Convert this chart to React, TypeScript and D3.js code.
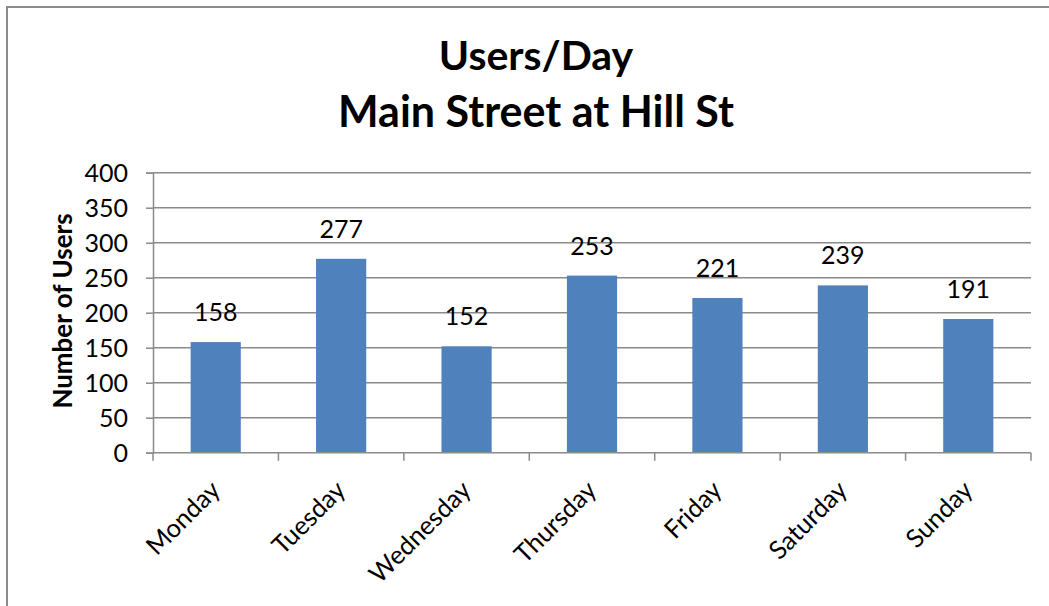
import React, { useEffect, useRef } from "react";
import * as d3 from "d3";

const days = ["Monday", "Tuesday", "Wednesday", "Thursday", "Friday", "Saturday", "Sunday"];
const users = [158, 277, 152, 253, 221, 239, 191];
const yTicks = [0, 50, 100, 150, 200, 250, 300, 350, 400];
const titleLines = ["Users/Day", "Main Street at Hill St"];
const yTitle = "Number of Users";

const FONT = "Lato, 'Open Sans', sans-serif";

function BarChart() {
  const ref = useRef<HTMLDivElement>(null);

  useEffect(() => {
    const width = 1049;
    const height = 606;
    const left = 153;
    const right = 1031;
    const top = 172.7;
    const bottom = 452.7;

    document.body.style.margin = "0";
    d3.select(ref.current).select("svg").remove();

    const svg = d3
      .select(ref.current)
      .append("svg")
      .attr("width", width)
      .attr("height", height)
      .style("display", "block")
      .style("font-family", FONT);

    svg.append("rect").attr("width", width).attr("height", height).attr("fill", "white");

    // outer chart border (runs off the right and bottom edges)
    svg
      .append("rect")
      .attr("x", 7)
      .attr("y", 7)
      .attr("width", width + 20)
      .attr("height", height + 20)
      .attr("fill", "none")
      .attr("stroke", "#8c8c8c")
      .attr("stroke-width", 2);

    const x = d3.scaleBand().domain(days).range([left, right]).paddingInner(0.6).paddingOuter(0.3);
    const xCat = d3.scaleBand().domain(days).range([left, right]);
    const y = d3.scaleLinear().domain([0, 400]).range([bottom, top]);

    // gridlines
    svg
      .append("g")
      .selectAll("line")
      .data(yTicks.filter((t) => t > 0))
      .enter()
      .append("line")
      .attr("x1", left)
      .attr("x2", right)
      .attr("y1", (d) => y(d))
      .attr("y2", (d) => y(d))
      .attr("stroke", "#8a8a8a")
      .attr("stroke-width", 1.5);

    // y axis
    const yAxis = svg
      .append("g")
      .attr("transform", `translate(${left},0)`)
      .call(d3.axisLeft(y).tickValues(yTicks).tickSize(7).tickPadding(8));
    yAxis.select(".domain").attr("stroke", "#8a8a8a").attr("stroke-width", 1.5);
    yAxis.selectAll(".tick line").attr("stroke", "#8a8a8a").attr("stroke-width", 1.5);
    yAxis
      .selectAll(".tick text")
      .attr("font-family", FONT)
      .attr("font-size", 25)
      .attr("fill", "#000")
      .attr("dy", "0.36em")
      .attr("x", -25);

    // bars
    svg
      .append("g")
      .selectAll("rect")
      .data(users)
      .enter()
      .append("rect")
      .attr("x", (d, i) => x(days[i])!)
      .attr("y", (d) => y(d))
      .attr("width", x.bandwidth())
      .attr("height", (d) => bottom - y(d))
      .attr("fill", "#4f81bd");

    // data labels
    svg
      .append("g")
      .selectAll("text")
      .data(users)
      .enter()
      .append("text")
      .attr("x", (d, i) => x(days[i])! + x.bandwidth() / 2)
      .attr("y", (d) => y(d) - 21)
      .attr("text-anchor", "middle")
      .attr("font-size", 25)
      .text((d) => d);

    // x axis
    const boundaries = days.map((d) => xCat(d)!).concat([right]);
    svg
      .append("line")
      .attr("x1", left)
      .attr("x2", right)
      .attr("y1", bottom)
      .attr("y2", bottom)
      .attr("stroke", "#8a8a8a")
      .attr("stroke-width", 1.5);
    svg
      .append("g")
      .selectAll("line")
      .data(boundaries)
      .enter()
      .append("line")
      .attr("x1", (d) => d)
      .attr("x2", (d) => d)
      .attr("y1", bottom)
      .attr("y2", bottom + 8)
      .attr("stroke", "#8a8a8a")
      .attr("stroke-width", 1.5);

    svg
      .append("g")
      .selectAll("text")
      .data(days)
      .enter()
      .append("text")
      .attr("transform", (d) => `translate(${xCat(d)! + xCat.bandwidth() / 2 + 6},${bottom + 39}) rotate(-45)`)
      .attr("text-anchor", "end")
      .attr("font-size", 25.5)
      .text((d) => d);

    // y axis title
    svg
      .append("text")
      .attr("transform", `translate(72,311) rotate(-90)`)
      .attr("text-anchor", "middle")
      .attr("font-size", 26)
      .attr("font-weight", "bold")
      .text(yTitle);

    // title
    svg
      .append("g")
      .selectAll("text")
      .data(titleLines)
      .enter()
      .append("text")
      .attr("x", 536)
      .attr("y", (d, i) => 70 + i * 57)
      .attr("text-anchor", "middle")
      .attr("font-size", (d, i) => (i === 0 ? 41 : 43))
      .attr("font-weight", "bold")
      .text((d) => d);
  }, []);

  return <div ref={ref}></div>;
}

export default function App() {
  return <BarChart />;
}
